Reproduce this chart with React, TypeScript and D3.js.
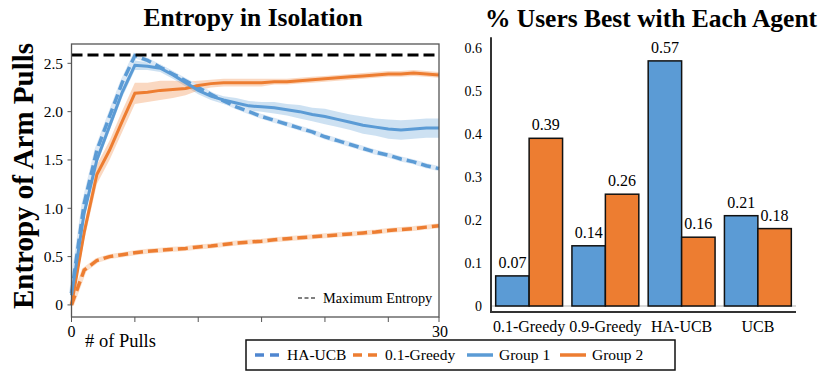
import { useEffect, useRef } from "react";
import * as d3 from "d3";

// ---- left panel: entropy per pull (index 0..29) ----
const pulls = d3.range(30);
const haUcb = [
  0.12, 1.05, 1.6, 1.95, 2.3, 2.58, 2.53, 2.46, 2.39, 2.32, 2.25, 2.18, 2.11, 2.05, 2.0,
  1.95, 1.91, 1.87, 1.83, 1.79, 1.74, 1.7, 1.66, 1.62, 1.58, 1.55, 1.51, 1.48, 1.44, 1.41,
];
const greedy01 = [
  0.0, 0.36, 0.46, 0.5, 0.52, 0.54, 0.555, 0.565, 0.575, 0.585, 0.6, 0.61, 0.625, 0.64, 0.65,
  0.66, 0.675, 0.685, 0.695, 0.705, 0.715, 0.725, 0.735, 0.745, 0.755, 0.77, 0.78, 0.79, 0.805, 0.82,
];
const group1 = [
  0.1, 0.95, 1.5, 1.85, 2.2, 2.48, 2.47, 2.45, 2.38, 2.3, 2.22, 2.16, 2.12, 2.09, 2.06,
  2.05, 2.04, 2.02, 2.0, 1.97, 1.95, 1.92, 1.89, 1.86, 1.84, 1.82, 1.81, 1.82, 1.83, 1.83,
];
const group1Err = [
  0.04, 0.05, 0.05, 0.05, 0.05, 0.05, 0.04, 0.04, 0.04, 0.04, 0.04, 0.04, 0.04, 0.05, 0.05,
  0.05, 0.06, 0.06, 0.07, 0.07, 0.08, 0.08, 0.08, 0.09, 0.09, 0.1, 0.1, 0.1, 0.1, 0.1,
];
const group2 = [
  0.0, 0.75, 1.35, 1.6, 1.9, 2.19, 2.2, 2.22, 2.23, 2.24, 2.27, 2.29, 2.3, 2.3, 2.3,
  2.3, 2.31, 2.31, 2.32, 2.33, 2.34, 2.35, 2.36, 2.37, 2.38, 2.39, 2.39, 2.4, 2.39, 2.38,
];
const group2Err = [
  0.04, 0.08, 0.1, 0.1, 0.11, 0.11, 0.1, 0.1, 0.09, 0.07, 0.05, 0.04, 0.04, 0.04, 0.04,
  0.04, 0.03, 0.03, 0.03, 0.03, 0.03, 0.03, 0.03, 0.03, 0.03, 0.03, 0.03, 0.03, 0.03, 0.03,
];
const maxEntropy = Math.log2(6);
const leftTicks = [0, 0.5, 1.0, 1.5, 2.0, 2.5];
const leftTickLabels = ["0", "0.5", "1.0", "1.5", "2.0", "2.5"];
const pullTicks = [0, 5, 10, 15, 20, 25, 29];

// ---- right panel: share of users best with each agent ----
const agents = ["0.1-Greedy", "0.9-Greedy", "HA-UCB", "UCB"];
const groups = ["Group 1", "Group 2"];
const bestGroup1 = [0.07, 0.14, 0.57, 0.21];
const bestGroup2 = [0.39, 0.26, 0.16, 0.18];
const rightTicks = [0, 0.1, 0.2, 0.3, 0.4, 0.5, 0.6];

const BLUE = "#5b9bd5";
const ORANGE = "#ed7d31";
const FONT = '"Liberation Serif", "Times New Roman", Times, "DejaVu Serif", serif';

export default function App() {
  const ref = useRef<SVGSVGElement>(null);

  useEffect(() => {
    const svg = d3.select(ref.current);
    svg.selectAll("*").remove();

    // ===== left panel =====
    const x = d3.scaleLinear().domain([0, 29]).range([71.5, 439]);
    const y = d3.scaleLinear().domain([-0.125, 2.7]).range([317, 44]);
    const left = svg.append("g");

    const band = (vals: number[], err: number[]) =>
      d3
        .area<number>()
        .x((i) => x(i))
        .y0((i) => y(vals[i] - err[i]))
        .y1((i) => y(vals[i] + err[i]))(pulls);
    const line = (vals: number[]) =>
      d3
        .line<number>()
        .x((i) => x(i))
        .y((i) => y(vals[i]))(pulls);

    left.append("path").attr("d", band(group1, group1Err)).attr("fill", BLUE).attr("opacity", 0.3);
    left.append("path").attr("d", band(group2, group2Err)).attr("fill", ORANGE).attr("opacity", 0.3);

    // dashed series with pale halo
    [
      { v: greedy01, c: ORANGE, halo: "#fbe0cc" },
      { v: haUcb, c: BLUE, halo: "#dbe8f5" },
    ].forEach((s) => {
      left.append("path").attr("d", line(s.v)).attr("fill", "none").attr("stroke", s.halo).attr("stroke-width", 5);
      left
        .append("path")
        .attr("d", line(s.v))
        .attr("fill", "none")
        .attr("stroke", s.c)
        .attr("stroke-width", 3.5)
        .attr("stroke-dasharray", "10,5");
    });

    left.append("path").attr("d", line(group2)).attr("fill", "none").attr("stroke", ORANGE).attr("stroke-width", 3);
    left.append("path").attr("d", line(group1)).attr("fill", "none").attr("stroke", BLUE).attr("stroke-width", 3);

    // maximum entropy
    left
      .append("line")
      .attr("x1", x(0))
      .attr("x2", x(29))
      .attr("y1", y(maxEntropy))
      .attr("y2", y(maxEntropy))
      .attr("stroke", "#000")
      .attr("stroke-width", 3)
      .attr("stroke-dasharray", "11,5");

    // frame
    left
      .append("rect")
      .attr("x", x(0))
      .attr("y", y(2.7))
      .attr("width", x(29) - x(0))
      .attr("height", y(-0.125) - y(2.7))
      .attr("fill", "none")
      .attr("stroke", "#555")
      .attr("stroke-width", 1.3);

    // y ticks
    leftTicks.forEach((t, i) => {
      left.append("line").attr("x1", x(0) - 4).attr("x2", x(0)).attr("y1", y(t)).attr("y2", y(t)).attr("stroke", "#555");
      left
        .append("text")
        .attr("x", 63)
        .attr("y", y(t))
        .attr("dy", "0.35em")
        .attr("text-anchor", "end")
        .attr("font-size", 15.5)
        .text(leftTickLabels[i]);
    });
    // x ticks
    pullTicks.forEach((t) => {
      left.append("line").attr("x1", x(t)).attr("x2", x(t)).attr("y1", y(-0.125)).attr("y2", y(-0.125) + 5).attr("stroke", "#555");
    });
    left.append("text").attr("x", x(0)).attr("y", 337).attr("text-anchor", "middle").attr("font-size", 16).text("0");
    left.append("text").attr("x", x(29) + 1).attr("y", 337).attr("text-anchor", "middle").attr("font-size", 16).text("30");
    left.append("text").attr("x", 85).attr("y", 347).attr("font-size", 18.5).text("# of Pulls");

    // max entropy note
    left
      .append("line")
      .attr("x1", 298)
      .attr("x2", 315)
      .attr("y1", 298)
      .attr("y2", 298)
      .attr("stroke", "#000")
      .attr("stroke-width", 1)
      .attr("stroke-dasharray", "4,2.5");
    left.append("text").attr("x", 323).attr("y", 303).attr("font-size", 14.3).text("Maximum Entropy");

    left
      .append("text")
      .attr("x", 253)
      .attr("y", 26)
      .attr("text-anchor", "middle")
      .attr("font-size", 25.5)
      .attr("font-weight", "bold")
      .text("Entropy in Isolation");
    left
      .append("text")
      .attr("transform", "translate(33,176) rotate(-90)")
      .attr("text-anchor", "middle")
      .attr("font-size", 29)
      .attr("font-weight", "bold")
      .text("Entropy of Arm Pulls");

    // ===== right panel =====
    const x0 = d3.scaleBand().domain(agents).range([491, 796]).paddingInner(0).paddingOuter(0);
    const x1 = d3.scaleBand().domain(groups).range([0, x0.bandwidth()]).paddingInner(0).paddingOuter(0.14);
    const yr = d3.scaleLinear().domain([0, 0.6]).range([306, 48]);
    const right = svg.append("g");

    right
      .append("line")
      .attr("x1", 491)
      .attr("x2", 796)
      .attr("y1", yr(0))
      .attr("y2", yr(0))
      .attr("stroke", "#d9d9d9")
      .attr("stroke-width", 2);

    rightTicks.forEach((t) => {
      right
        .append("text")
        .attr("x", 482)
        .attr("y", yr(t))
        .attr("dy", "0.35em")
        .attr("text-anchor", "end")
        .attr("font-size", 14)
        .text(t === 0 ? "0" : d3.format(".1f")(t));
    });

    const rows = agents.flatMap((a, i) => [
      { agent: a, group: groups[0], value: bestGroup1[i], color: BLUE },
      { agent: a, group: groups[1], value: bestGroup2[i], color: ORANGE },
    ]);
    right
      .selectAll("rect.bar")
      .data(rows)
      .enter()
      .append("rect")
      .attr("class", "bar")
      .attr("x", (d) => (x0(d.agent) as number) + (x1(d.group) as number))
      .attr("y", (d) => yr(d.value))
      .attr("width", x1.bandwidth())
      .attr("height", (d) => yr(0) - yr(d.value))
      .attr("fill", (d) => d.color)
      .attr("stroke", "#111")
      .attr("stroke-width", 1.5);
    right
      .selectAll("text.val")
      .data(rows)
      .enter()
      .append("text")
      .attr("class", "val")
      .attr("x", (d) => (x0(d.agent) as number) + (x1(d.group) as number) + x1.bandwidth() / 2)
      .attr("y", (d) => yr(d.value) - 8)
      .attr("text-anchor", "middle")
      .attr("font-size", 16)
      .text((d) => d3.format(".2f")(d.value));

    agents.forEach((a) => {
      right
        .append("text")
        .attr("x", (x0(a) as number) + x0.bandwidth() / 2)
        .attr("y", 332)
        .attr("text-anchor", "middle")
        .attr("font-size", 16)
        .text(a);
    });

    right
      .append("path")
      .attr("d", `M491,${yr(0.625)}V312H796`)
      .attr("fill", "none")
      .attr("stroke", "#333")
      .attr("stroke-width", 2);

    right
      .append("text")
      .attr("x", 651)
      .attr("y", 27)
      .attr("text-anchor", "middle")
      .attr("font-size", 25.5)
      .attr("font-weight", "bold")
      .text("% Users Best with Each Agent");

    // ===== shared legend =====
    const lg = svg.append("g");
    lg.append("rect")
      .attr("x", 246)
      .attr("y", 340)
      .attr("width", 429)
      .attr("height", 30)
      .attr("fill", "#fff")
      .attr("stroke", "#111")
      .attr("stroke-width", 1.5);
    const items = [
      { label: "HA-UCB", color: "#4f86d0", dashed: true, x: 255 },
      { label: "0.1-Greedy", color: ORANGE, dashed: true, x: 353 },
      { label: "Group 1", color: BLUE, dashed: false, x: 467 },
      { label: "Group 2", color: ORANGE, dashed: false, x: 560 },
    ];
    items.forEach((it) => {
      const l = lg
        .append("line")
        .attr("x1", it.x)
        .attr("x2", it.x + 26)
        .attr("y1", 355)
        .attr("y2", 355)
        .attr("stroke", it.color)
        .attr("stroke-width", 3.5);
      if (it.dashed) l.attr("stroke-dasharray", "9,6");
      lg.append("text").attr("x", it.x + 32).attr("y", 360).attr("font-size", 15.5).text(it.label);
    });
  }, []);

  return (
    <svg
      ref={ref}
      width={830}
      height={386}
      fontFamily={FONT}
      style={{ position: "absolute", left: 0, top: 0, display: "block", fontFamily: FONT }}
    />
  );
}
